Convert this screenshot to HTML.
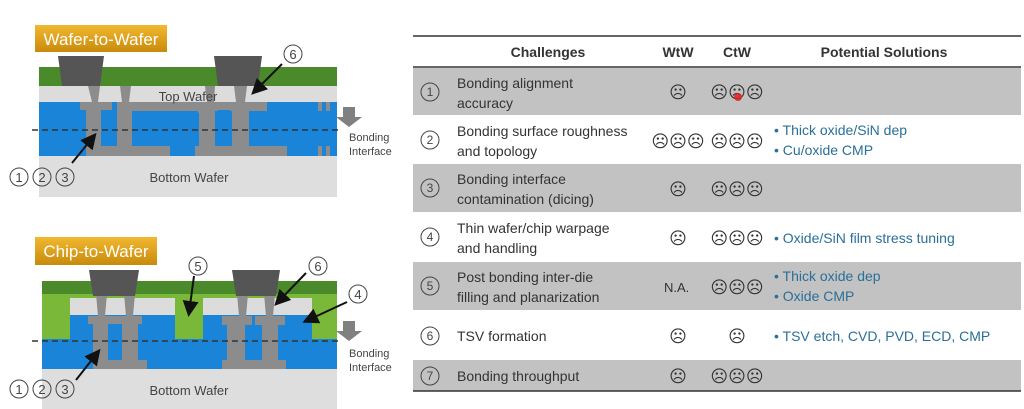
<!DOCTYPE html>
<html><head><meta charset="utf-8"><style>
body{margin:0;width:1024px;height:409px;background:#fff;overflow:hidden;position:relative;font-family:"Liberation Sans","DejaVu Sans",sans-serif}
svg{position:absolute;left:0;top:0}
</style></head><body>
<svg width="1024" height="409" viewBox="0 0 1024 409" font-family="Liberation Sans, sans-serif">
<defs>
<linearGradient id="og" x1="0" y1="0" x2="0" y2="1"><stop offset="0" stop-color="#f2b830"/><stop offset="1" stop-color="#c98a0c"/></linearGradient>
<marker id="ah" markerWidth="8" markerHeight="8" refX="6" refY="4" orient="auto"><path d="M0,0 L8,4 L0,8 Z" fill="#111"/></marker>
</defs>
<!-- WtW -->
<rect x="35" y="25" width="132" height="27" fill="url(#og)"/>
<text x="101" y="45" font-size="17" fill="#fff" text-anchor="middle">Wafer-to-Wafer</text>
<rect x="39" y="67" width="298" height="19" fill="#4a8a2a"/>
<rect x="39" y="86" width="298" height="16" fill="#dcdcdc"/>
<rect x="39" y="102" width="298" height="54" fill="#1a84d8"/>
<rect x="39" y="156" width="298" height="41" fill="#dedede"/>
<g fill="#8c8c8c">
<rect x="80" y="102" width="32" height="8"/><rect x="86" y="102" width="15" height="54"/>
<rect x="88" y="146" width="82" height="10"/><rect x="117" y="102" width="15" height="54"/>
<rect x="117" y="102" width="150" height="9"/><rect x="198" y="102" width="17" height="54"/>
<rect x="195" y="146" width="92" height="10"/><rect x="232" y="102" width="17" height="54"/>
<rect x="228" y="102" width="28" height="8"/>
<polygon points="88,86 100,86 98,102 92,102"/><polygon points="120,86 131,86 129,102 122,102"/>
<polygon points="205,86 215,86 214,102 207,102"/><polygon points="234,86 247,86 245,102 236,102"/>
<rect x="318" y="102" width="4" height="9"/><rect x="326" y="102" width="4" height="9"/>
<rect x="318" y="146" width="4" height="10"/><rect x="326" y="146" width="4" height="10"/>
</g>
<rect x="133" y="113" width="66" height="33" fill="#1a84d8"/>
<rect x="218" y="110" width="12" height="36" fill="#1a84d8"/>
<polygon points="58,56 104,56 100,86 62,86" fill="#555"/>
<polygon points="214,56 262,56 258,86 218,86" fill="#555"/>
<text x="188" y="101" font-size="13" fill="#444" text-anchor="middle">Top Wafer</text>
<text x="189" y="182" font-size="13" fill="#444" text-anchor="middle">Bottom Wafer</text>
<line x1="32" y1="130" x2="340" y2="130" stroke="#333" stroke-width="1.5" stroke-dasharray="6,4"/>
<line x1="72" y1="163" x2="94" y2="136" stroke="#111" stroke-width="2" marker-end="url(#ah)"/>
<line x1="282" y1="64" x2="254" y2="92" stroke="#111" stroke-width="2" marker-end="url(#ah)"/>
<g fill="none" stroke="#444" stroke-width="1"><circle cx="19" cy="177" r="9"/><circle cx="42" cy="177" r="9"/><circle cx="65" cy="177" r="9"/><circle cx="293" cy="54" r="9"/></g>
<g font-size="13" fill="#444" text-anchor="middle"><text x="19" y="182">1</text><text x="42" y="182">2</text><text x="65" y="182">3</text><text x="293" y="59">6</text></g>
<polygon points="343,107 355,107 355,117 362,117 349,127 336,117 343,117" fill="#808080"/>
<text x="349" y="141" font-size="11" fill="#444">Bonding</text><text x="349" y="155" font-size="11" fill="#444">Interface</text>
<!-- CtW -->
<rect x="35" y="237" width="122" height="28" fill="url(#og)"/>
<text x="96" y="257" font-size="17" fill="#fff" text-anchor="middle">Chip-to-Wafer</text>
<rect x="42" y="281" width="295" height="13" fill="#4a8a2a"/>
<rect x="42" y="294" width="295" height="46" fill="#7ab83a"/>
<rect x="70" y="298" width="105" height="17" fill="#dcdcdc"/>
<rect x="203" y="298" width="109" height="17" fill="#dcdcdc"/>
<rect x="70" y="315" width="105" height="25" fill="#1a84d8"/>
<rect x="203" y="315" width="109" height="25" fill="#1a84d8"/>
<rect x="42" y="339" width="295" height="30" fill="#1a84d8"/>
<rect x="42" y="369" width="295" height="40" fill="#dedede"/>
<g fill="#8c8c8c">
<rect x="88" y="316" width="54" height="8"/><rect x="93" y="316" width="15" height="53"/><rect x="122" y="316" width="16" height="53"/>
<rect x="95" y="360" width="52" height="9"/>
<rect x="222" y="316" width="30" height="9"/><rect x="227" y="316" width="18" height="53"/>
<rect x="255" y="316" width="30" height="9"/><rect x="262" y="316" width="16" height="53"/>
<rect x="222" y="360" width="64" height="9"/>
<polygon points="96,294 107,294 105,316 98,316"/><polygon points="124,294 135,294 133,316 126,316"/>
<polygon points="237,294 248,294 246,316 239,316"/><polygon points="264,294 275,294 273,316 266,316"/>
</g>
<rect x="110" y="324" width="10" height="36" fill="#1a84d8"/>
<rect x="248" y="325" width="12" height="35" fill="#1a84d8"/>
<polygon points="89,270 139,270 135,296 93,296" fill="#555"/>
<polygon points="232,270 280,270 276,296 236,296" fill="#555"/>
<text x="189" y="395" font-size="13" fill="#444" text-anchor="middle">Bottom Wafer</text>
<line x1="32" y1="341" x2="340" y2="341" stroke="#333" stroke-width="1.5" stroke-dasharray="6,4"/>
<line x1="76" y1="380" x2="98" y2="352" stroke="#111" stroke-width="2" marker-end="url(#ah)"/>
<line x1="194" y1="276" x2="189" y2="313" stroke="#111" stroke-width="2" marker-end="url(#ah)"/>
<line x1="306" y1="273" x2="277" y2="303" stroke="#111" stroke-width="2" marker-end="url(#ah)"/>
<line x1="347" y1="302" x2="306" y2="321" stroke="#111" stroke-width="2" marker-end="url(#ah)"/>
<g fill="none" stroke="#444" stroke-width="1"><circle cx="19" cy="389" r="9"/><circle cx="42" cy="389" r="9"/><circle cx="65" cy="389" r="9"/><circle cx="198" cy="266" r="9"/><circle cx="318" cy="266" r="9"/><circle cx="358" cy="294" r="9"/></g>
<g font-size="13" fill="#444" text-anchor="middle"><text x="19" y="394">1</text><text x="42" y="394">2</text><text x="65" y="394">3</text><text x="198" y="271">5</text><text x="318" y="271">6</text><text x="358" y="299">4</text></g>
<polygon points="343,321 355,321 355,331 362,331 349,341 336,331 343,331" fill="#808080"/>
<text x="349" y="357" font-size="11" fill="#444">Bonding</text><text x="349" y="371" font-size="11" fill="#444">Interface</text>
<!-- table -->
<g fill="#c2c2c2">
<rect x="413" y="68" width="608" height="47"/><rect x="413" y="164" width="608" height="48"/>
<rect x="413" y="262" width="608" height="48"/><rect x="413" y="360" width="608" height="31"/>
</g>
<line x1="413" y1="36" x2="1021" y2="36" stroke="#333" stroke-width="1.5"/>
<line x1="413" y1="67" x2="1021" y2="67" stroke="#333" stroke-width="1.5"/>
<line x1="413" y1="391" x2="1021" y2="391" stroke="#333" stroke-width="1.5"/>
<g font-size="14" font-weight="bold" fill="#333" text-anchor="middle">
<text x="548" y="57">Challenges</text><text x="678" y="57">WtW</text><text x="737" y="57">CtW</text><text x="884" y="57">Potential Solutions</text></g>
<g fill="none" stroke="#444" stroke-width="1">
<circle cx="430" cy="92" r="9"/><circle cx="430" cy="140" r="9"/><circle cx="430" cy="188" r="9"/><circle cx="430" cy="237" r="9"/><circle cx="430" cy="286" r="9"/><circle cx="430" cy="336" r="9"/><circle cx="430" cy="376" r="9"/></g>
<g font-size="12" fill="#444" text-anchor="middle">
<text x="430" y="96">1</text><text x="430" y="144">2</text><text x="430" y="192">3</text><text x="430" y="241">4</text><text x="430" y="290">5</text><text x="430" y="340">6</text><text x="430" y="380">7</text></g>
<g font-size="14" fill="#333">
<text x="457" y="88">Bonding alignment</text><text x="457" y="108">accuracy</text>
<text x="457" y="136">Bonding surface roughness</text><text x="457" y="156">and topology</text>
<text x="457" y="184">Bonding interface</text><text x="457" y="204">contamination (dicing)</text>
<text x="457" y="233">Thin wafer/chip warpage</text><text x="457" y="253">and handling</text>
<text x="457" y="282">Post bonding inter-die</text><text x="457" y="302">filling and planarization</text>
<text x="457" y="341">TSV formation</text>
<text x="457" y="381">Bonding throughput</text>
<text x="664" y="292" font-size="13">N.A.</text></g>
<g font-size="17" fill="#333" text-anchor="middle">
<text x="678" y="98">☹</text><text x="737" y="98">☹☹☹</text>
<text x="678" y="147">☹☹☹</text><text x="737" y="147">☹☹☹</text>
<text x="678" y="195">☹</text><text x="737" y="195">☹☹☹</text>
<text x="678" y="244">☹</text><text x="737" y="244">☹☹☹</text>
<text x="737" y="293">☹☹☹</text>
<text x="678" y="342">☹</text><text x="737" y="342">☹</text>
<text x="678" y="382">☹</text><text x="737" y="382">☹☹☹</text></g>
<circle cx="738" cy="97" r="4" fill="#e02020" opacity="0.85"/>
<g font-size="14" fill="#2a6f99">
<text x="774" y="135">•  Thick oxide/SiN dep</text><text x="774" y="155">•  Cu/oxide CMP</text>
<text x="774" y="243">•  Oxide/SiN film stress tuning</text>
<text x="774" y="281">•  Thick oxide dep</text><text x="774" y="301">•  Oxide CMP</text>
<text x="774" y="341">•  TSV etch, CVD, PVD, ECD, CMP</text></g>
</svg>
</body></html>
